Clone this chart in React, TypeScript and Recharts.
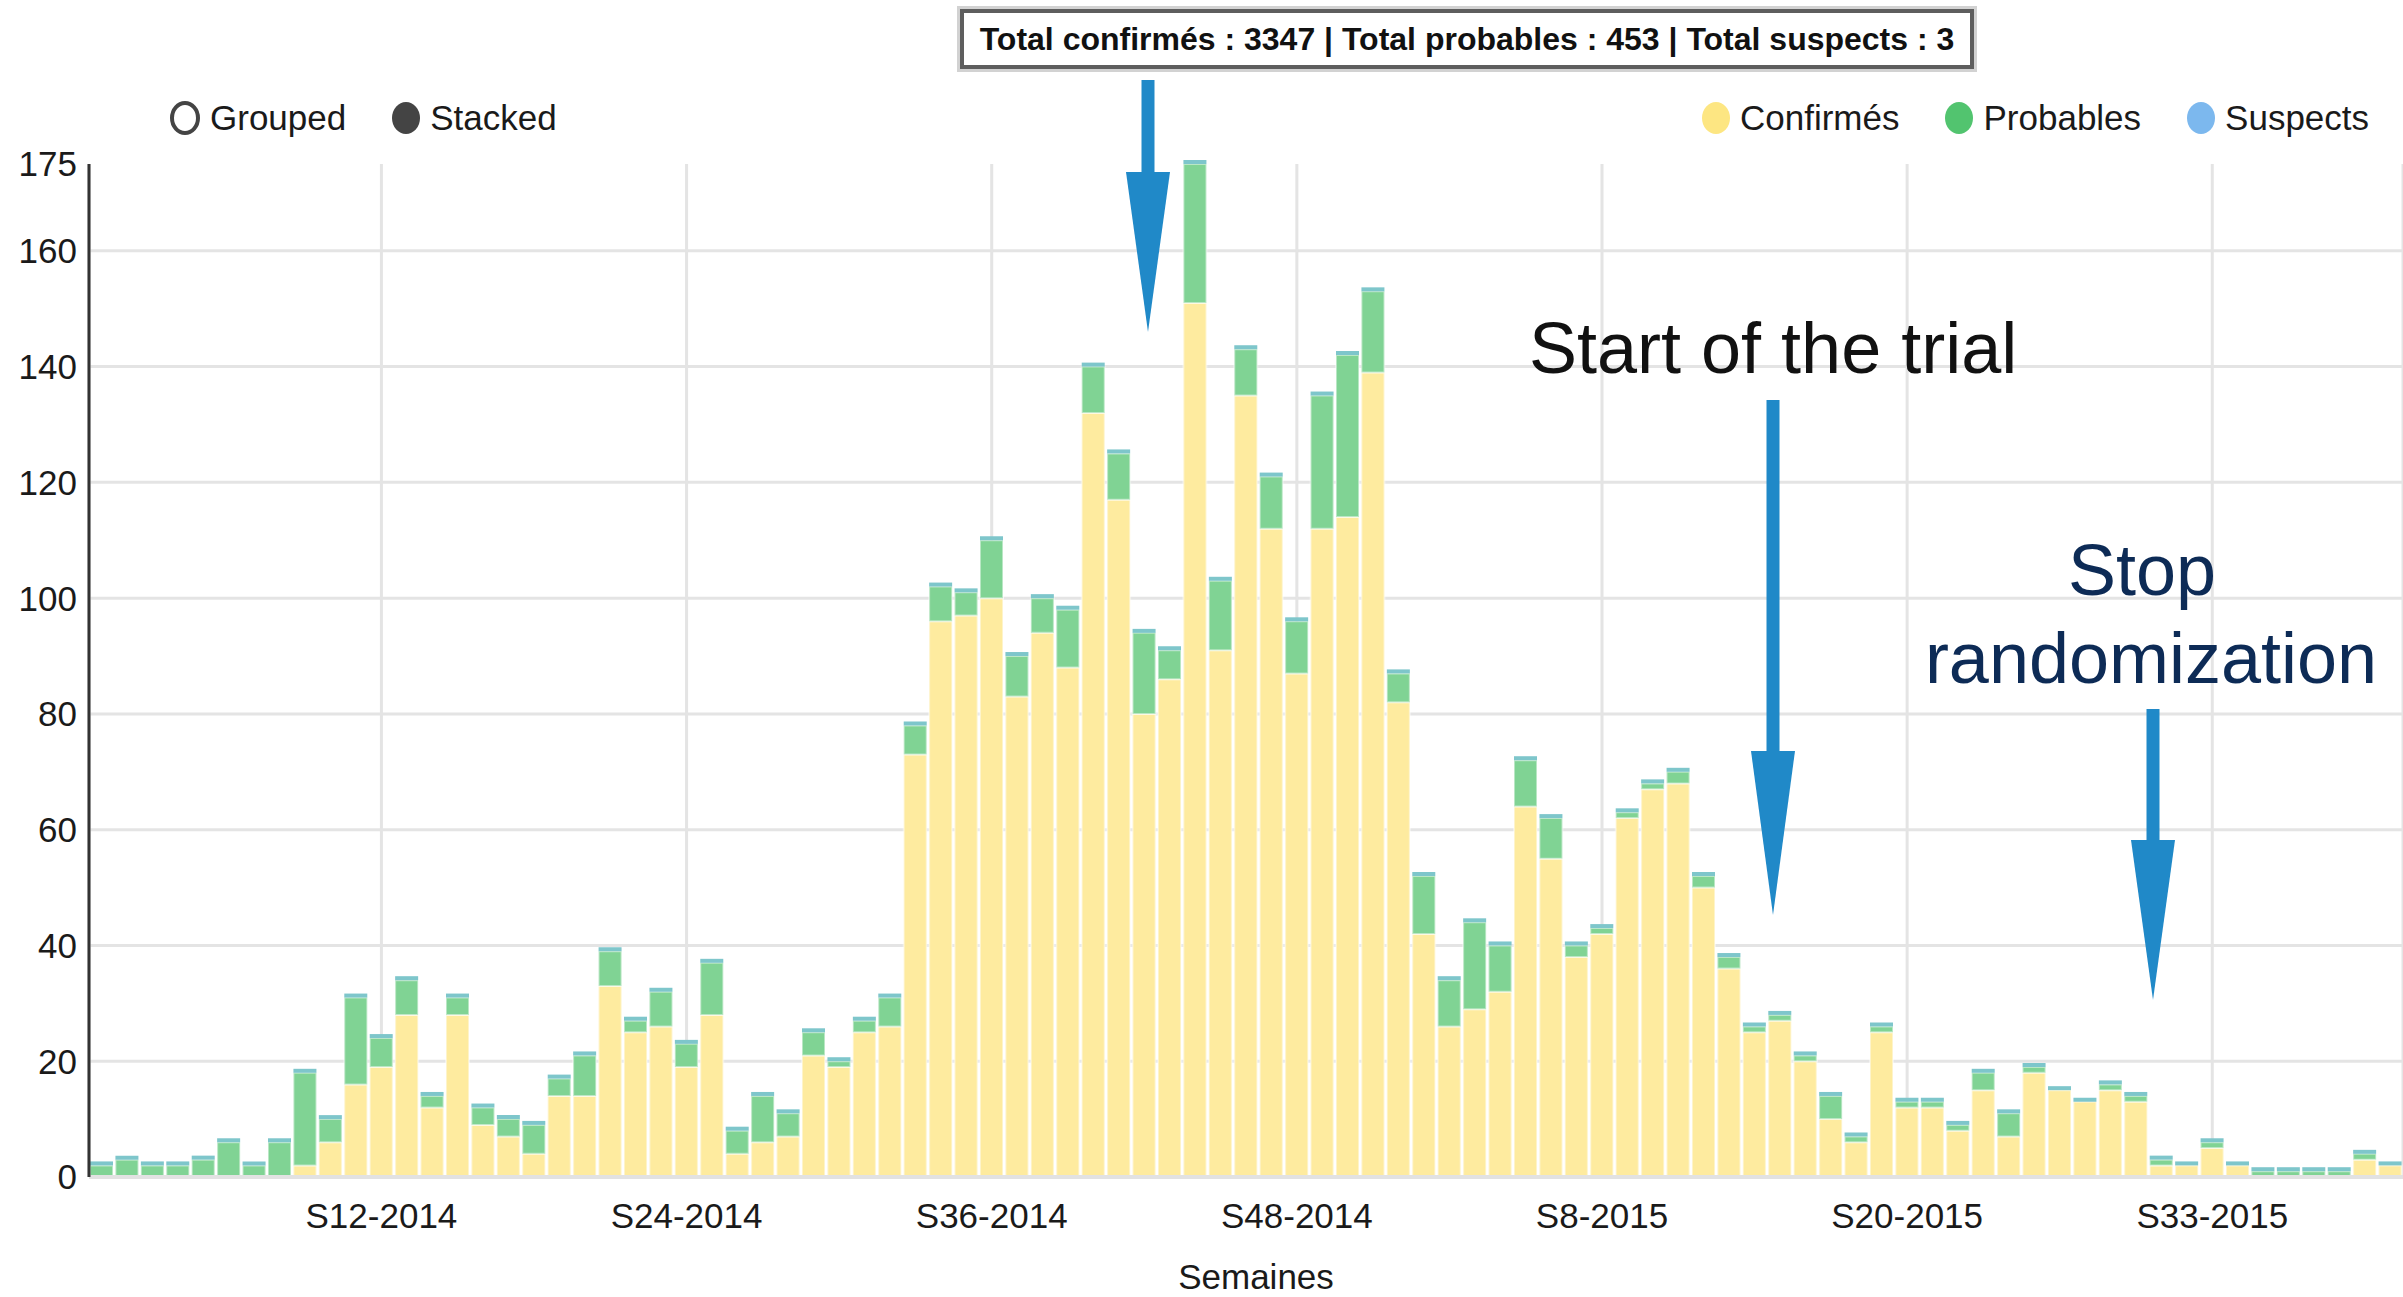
import React from "react";
import { BarChart, Bar, XAxis, YAxis, CartesianGrid } from "recharts";

// weekly cases
const WEEK_LABELS = [
  "S1-2014", "S2-2014", "S3-2014", "S4-2014", "S5-2014", "S6-2014", "S7-2014", "S8-2014", "S9-2014", "S10-2014",
  "S11-2014", "S12-2014", "S13-2014", "S14-2014", "S15-2014", "S16-2014", "S17-2014", "S18-2014", "S19-2014", "S20-2014",
  "S21-2014", "S22-2014", "S23-2014", "S24-2014", "S25-2014", "S26-2014", "S27-2014", "S28-2014", "S29-2014", "S30-2014",
  "S31-2014", "S32-2014", "S33-2014", "S34-2014", "S35-2014", "S36-2014", "S37-2014", "S38-2014", "S39-2014", "S40-2014",
  "S41-2014", "S42-2014", "S43-2014", "S44-2014", "S45-2014", "S46-2014", "S47-2014", "S48-2014", "S49-2014", "S50-2014",
  "S51-2014", "S52-2014", "S1-2015", "S2-2015", "S3-2015", "S4-2015", "S5-2015", "S6-2015", "S7-2015", "S8-2015",
  "S9-2015", "S10-2015", "S11-2015", "S12-2015", "S13-2015", "S14-2015", "S15-2015", "S16-2015", "S17-2015", "S18-2015",
  "S19-2015", "S20-2015", "S21-2015", "S22-2015", "S23-2015", "S24-2015", "S25-2015", "S27-2015", "S28-2015", "S29-2015",
  "S30-2015", "S31-2015", "S32-2015", "S33-2015", "S34-2015", "S35-2015", "S36-2015", "S37-2015", "S38-2015", "S39-2015",
  "S40-2015",
];

const CONFIRMES = [
  0, 0, 0, 0, 0, 0, 0, 0, 2, 6,
  16, 19, 28, 12, 28, 9, 7, 4, 14, 14,
  33, 25, 26, 19, 28, 4, 6, 7, 21, 19,
  25, 26, 73, 96, 97, 100, 83, 94, 88, 132,
  117, 80, 86, 151, 91, 135, 112, 87, 112, 114,
  139, 82, 42, 26, 29, 32, 64, 55, 38, 42,
  62, 67, 68, 50, 36, 25, 27, 20, 10, 6,
  25, 12, 12, 8, 15, 7, 18, 15, 13, 15,
  13, 2, 2, 5, 2, 0, 0, 0, 0, 3,
  2,
];

const PROBABLES = [
  2, 3, 2, 2, 3, 6, 2, 6, 16, 4,
  15, 5, 6, 2, 3, 3, 3, 5, 3, 7,
  6, 2, 6, 4, 9, 4, 8, 4, 4, 1,
  2, 5, 5, 6, 4, 10, 7, 6, 10, 8,
  8, 14, 5, 24, 12, 8, 9, 9, 23, 28,
  14, 5, 10, 8, 15, 8, 8, 7, 2, 1,
  1, 1, 2, 2, 2, 1, 1, 1, 4, 1,
  1, 1, 1, 1, 3, 4, 1, 0, 0, 1,
  1, 1, 0, 1, 0, 1, 1, 1, 1, 1,
  0,
];

const SUSPECTS = [
  0, 0, 0, 0, 0, 0, 0, 0, 0, 0,
  0, 0, 0, 0, 0, 0, 0, 0, 0, 0,
  0, 0, 0, 0, 0, 0, 0, 0, 0, 0,
  0, 0, 0, 0, 0, 0, 0, 0, 0, 0,
  0, 0, 0, 0, 0, 0, 0, 0, 0, 0,
  0, 0, 0, 0, 0, 0, 0, 0, 0, 0,
  0, 0, 0, 0, 0, 0, 0, 0, 0, 0,
  0, 0, 0, 0, 0, 0, 0, 0, 0, 0,
  0, 0, 0, 0, 0, 0, 0, 0, 0, 0,
  0,
];

const X_TICKS = ["S12-2014", "S24-2014", "S36-2014", "S48-2014", "S8-2015", "S20-2015", "S33-2015"];
const Y_TICKS = [0, 20, 40, 60, 80, 100, 120, 140, 160, 175];
const Y_GRID = [0, 20, 40, 60, 80, 100, 120, 140, 160];

const data = WEEK_LABELS.map((week, i) => ({
  week,
  confirmes: CONFIRMES[i],
  probables: PROBABLES[i],
  suspects: SUSPECTS[i],
}));

const FONT = '"Liberation Sans", Arial, sans-serif';
const ARROW = "#2089c8";

function LegendDot({ color, hollow }: { color: string; hollow?: boolean }) {
  return (
    <span
      style={{
        display: "inline-block",
        width: hollow ? 22 : 28,
        height: hollow ? 26 : 32,
        borderRadius: "50%",
        background: hollow ? "#fff" : color,
        border: hollow ? `4px solid ${color}` : "none",
        marginRight: 10,
        verticalAlign: "middle",
      }}
    />
  );
}

function Arrow({ x, top, headTop, tip }: { x: number; top: number; headTop: number; tip: number }) {
  return (
    <g fill={ARROW}>
      <rect x={x - 6.5} y={top} width={13} height={headTop - top + 1} />
      <polygon points={`${x - 22},${headTop} ${x + 22},${headTop} ${x},${tip}`} />
    </g>
  );
}

export default function App() {
  return (
    <div
      style={{
        position: "absolute",
        left: 0,
        top: 0,
        width: 2403,
        height: 1297,
        overflow: "hidden",
        background: "#fff",
        fontFamily: FONT,
        color: "#1a1a1a",
      }}
    >
      <BarChart
        width={2403}
        height={1297}
        data={data}
        margin={{ top: 164, right: 0, bottom: 0, left: 0 }}
        barCategoryGap={1}
        style={{ fontFamily: FONT }}
      >
        <CartesianGrid stroke="#e4e4e4" strokeWidth={3} horizontalValues={Y_GRID} />
        <XAxis
          dataKey="week"
          ticks={X_TICKS}
          interval={0}
          tickLine={false}
          axisLine={{ stroke: "#e2e2e2", strokeWidth: 4 }}
          tick={{ fontSize: 35, fill: "#1a1a1a" }}
          tickMargin={20}
          height={120}
          label={{ value: "Semaines", position: "insideBottom", offset: 8, fontSize: 35, fill: "#1a1a1a", dx: 10 }}
        />
        <YAxis
          type="number"
          domain={[0, 175]}
          ticks={Y_TICKS}
          interval={0}
          width={89}
          tickLine={false}
          axisLine={{ stroke: "#333", strokeWidth: 3 }}
          tick={{ fontSize: 35, fill: "#1a1a1a" }}
          tickMargin={6}
        />
        <Bar
          dataKey="confirmes"
          name="Confirmés"
          stackId="s"
          fill="#feeb9f"
          stroke="#ffffff"
          strokeOpacity={0.45}
          strokeWidth={2}
          isAnimationActive={false}
        />
        <Bar
          dataKey="probables"
          name="Probables"
          stackId="s"
          fill="#80d394"
          stroke="#ffffff"
          strokeOpacity={0.45}
          strokeWidth={2}
          isAnimationActive={false}
        />
        <Bar
          dataKey="suspects"
          name="Suspects"
          stackId="s"
          fill="#7ec6cb"
          minPointSize={4}
          isAnimationActive={false}
        />
      </BarChart>

      {/* annotations */}
      <svg
        width={2403}
        height={1297}
        style={{ position: "absolute", left: 0, top: 0, pointerEvents: "none" }}
      >
        <Arrow x={1148} top={80} headTop={172} tip={332} />
        <Arrow x={1773} top={400} headTop={751} tip={915} />
        <Arrow x={2153} top={709} headTop={840} tip={1000} />
        <text x={1529} y={373} fontSize={72} fill="#111" fontFamily={FONT}>
          Start of the trial
        </text>
        <text x={2142} y={595} fontSize={72} fill="#0d2b56" textAnchor="middle" fontFamily={FONT}>
          Stop
        </text>
        <text x={2151} y={683} fontSize={72} fill="#0d2b56" textAnchor="middle" fontFamily={FONT}>
          randomization
        </text>
      </svg>

      <div
        style={{
          position: "absolute",
          left: 960,
          top: 9,
          width: 1006,
          height: 52,
          border: "4px solid #5e5e5e",
          boxShadow: "0 0 0 3px #d2d2d2",
          background: "#fff",
          display: "flex",
          alignItems: "center",
          justifyContent: "center",
          fontSize: 32,
          fontWeight: 700,
          whiteSpace: "nowrap",
          color: "#111",
        }}
      >
        Total confirmés : 3347 | Total probables : 453 | Total suspects : 3
      </div>

      <div style={{ position: "absolute", left: 170, top: 95, fontSize: 35, whiteSpace: "nowrap" }}>
        <LegendDot color="#444" hollow />
        <span style={{ verticalAlign: "middle" }}>Grouped</span>
        <span style={{ display: "inline-block", width: 46 }} />
        <LegendDot color="#444" />
        <span style={{ verticalAlign: "middle" }}>Stacked</span>
      </div>

      <div style={{ position: "absolute", left: 1702, top: 95, fontSize: 35, whiteSpace: "nowrap" }}>
        <LegendDot color="#fde682" />
        <span style={{ verticalAlign: "middle" }}>Confirmés</span>
        <span style={{ display: "inline-block", width: 46 }} />
        <LegendDot color="#52c46f" />
        <span style={{ verticalAlign: "middle" }}>Probables</span>
        <span style={{ display: "inline-block", width: 46 }} />
        <LegendDot color="#7cb8ee" />
        <span style={{ verticalAlign: "middle" }}>Suspects</span>
      </div>
    </div>
  );
}
